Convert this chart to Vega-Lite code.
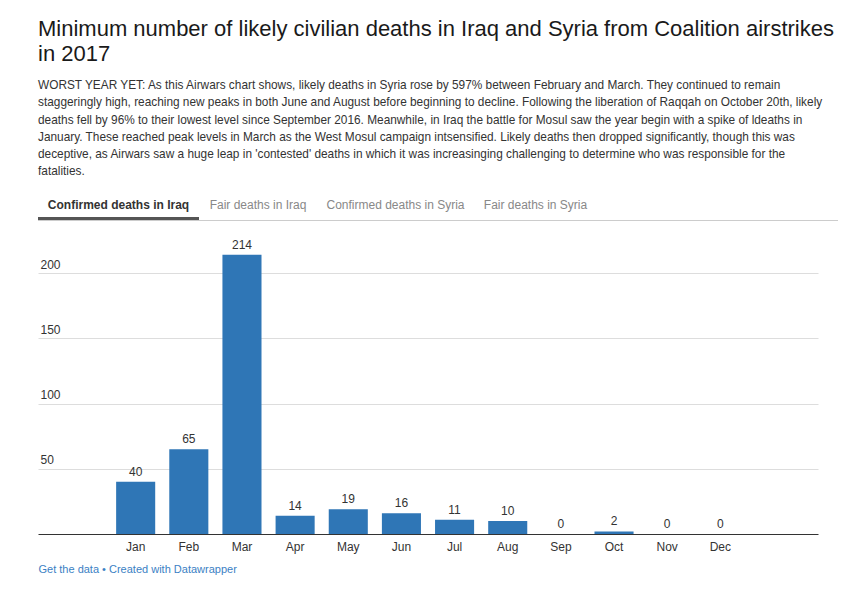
{
  "$schema": "https://vega.github.io/schema/vega-lite/v6.json",
  "padding": {"left": 38, "top": 17, "right": 10, "bottom": 5},
  "background": "white",
  "config": {"view": {"stroke": null}, "font": "Liberation Sans"},
  "title": {
    "text": ["Minimum number of likely civilian deaths in Iraq and Syria from Coalition airstrikes", "in 2017"],
    "subtitle": [
      "WORST YEAR YET: As this Airwars chart shows, likely deaths in Syria rose by 597% between February and March. They continued to remain",
      "staggeringly high, reaching new peaks in both June and August before beginning to decline. Following the liberation of Raqqah on October 20th, likely",
      "deaths fell by 96% to their lowest level since September 2016. Meanwhile, in Iraq the battle for Mosul saw the year begin with a spike of ldeaths in",
      "January. These reached peak levels in March as the West Mosul campaign intsensified. Likely deaths then dropped significantly, though this was",
      "deceptive, as Airwars saw a huge leap in 'contested' deaths in which it was increasinging challenging to determine who was responsible for the",
      "fatalities."
    ],
    "anchor": "start",
    "fontSize": 22,
    "fontWeight": "normal",
    "color": "#1a1a1a",
    "lineHeight": 25.5,
    "subtitleFontSize": 11.85,
    "subtitleColor": "#333333",
    "subtitleLineHeight": 17.2,
    "subtitlePadding": 14,
    "offset": 20
  },
  "spacing": 13,
  "vconcat": [
    {
      "spacing": 0,
      "vconcat": [
        {
          "spacing": 0,
          "hconcat": [
            {
              "width": 161, "height": 3,
              "data": {"values": [{}]},
              "title": {"text": "Confirmed deaths in Iraq", "fontSize": 12, "fontWeight": "bold", "color": "#333333", "anchor": "middle", "baseline": "alphabetic", "offset": -4},
              "mark": {"type": "rect", "color": "#555555"},
              "encoding": {}
            },
            {
              "width": 118, "height": 3,
              "data": {"values": [{}]},
              "title": {"text": "Fair deaths in Iraq", "fontSize": 12, "fontWeight": "normal", "color": "#888888", "anchor": "middle", "baseline": "alphabetic", "offset": -4},
              "mark": {"type": "rect", "opacity": 0},
              "encoding": {}
            },
            {
              "width": 157, "height": 3,
              "data": {"values": [{}]},
              "title": {"text": "Confirmed deaths in Syria", "fontSize": 12, "fontWeight": "normal", "color": "#888888", "anchor": "middle", "baseline": "alphabetic", "offset": -4},
              "mark": {"type": "rect", "opacity": 0},
              "encoding": {}
            },
            {
              "width": 123, "height": 3,
              "data": {"values": [{}]},
              "title": {"text": "Fair deaths in Syria", "fontSize": 12, "fontWeight": "normal", "color": "#888888", "anchor": "middle", "baseline": "alphabetic", "offset": -4},
              "mark": {"type": "rect", "opacity": 0},
              "encoding": {}
            }
          ]
        },
        {
          "width": 800, "height": 1,
          "data": {"values": [{}]},
          "mark": {"type": "rect", "color": "#cccccc"},
          "encoding": {}
        }
      ]
    },
    {
      "width": 780,
      "height": 300,
      "data": {
        "values": [
          {"month": "Jan", "deaths": 40},
          {"month": "Feb", "deaths": 65},
          {"month": "Mar", "deaths": 214},
          {"month": "Apr", "deaths": 14},
          {"month": "May", "deaths": 19},
          {"month": "Jun", "deaths": 16},
          {"month": "Jul", "deaths": 11},
          {"month": "Aug", "deaths": 10},
          {"month": "Sep", "deaths": 0},
          {"month": "Oct", "deaths": 2},
          {"month": "Nov", "deaths": 0},
          {"month": "Dec", "deaths": 0}
        ]
      },
      "encoding": {
        "x": {
          "field": "month", "type": "ordinal", "sort": null,
          "scale": {
            "domain": [" ", "Jan", "Feb", "Mar", "Apr", "May", "Jun", "Jul", "Aug", "Sep", "Oct", "Nov", "Dec", "  "],
            "paddingInner": 0.265, "paddingOuter": 0.47
          },
          "axis": {
            "title": "Get the data • Created with Datawrapper",
            "titleColor": "#3b7fc4", "titleFontSize": 11, "titleFontWeight": "normal",
            "titleAnchor": "start", "titleAlign": "left", "titlePadding": 11,
            "labelAngle": 0, "labelColor": "#333333", "labelFontSize": 12, "labelPadding": 7,
            "ticks": false, "domainColor": "#333333", "domainWidth": 1, "grid": false
          }
        },
        "y": {
          "field": "deaths", "type": "quantitative",
          "scale": {"domain": [0, 230], "nice": false},
          "axis": {
            "title": null, "values": [50, 100, 150, 200],
            "labelAlign": "left", "labelBaseline": "alphabetic", "labelOffset": -5, "labelPadding": -2,
            "labelColor": "#333333", "labelFontSize": 12,
            "ticks": false, "domain": false, "gridColor": "#dddddd", "gridWidth": 1
          }
        }
      },
      "layer": [
        {"mark": {"type": "bar", "color": "#2f76b6"}},
        {
          "mark": {"type": "text", "dy": -6, "baseline": "alphabetic", "fontSize": 12, "color": "#333333"},
          "encoding": {"text": {"field": "deaths", "type": "quantitative"}}
        }
      ]
    }
  ]
}
